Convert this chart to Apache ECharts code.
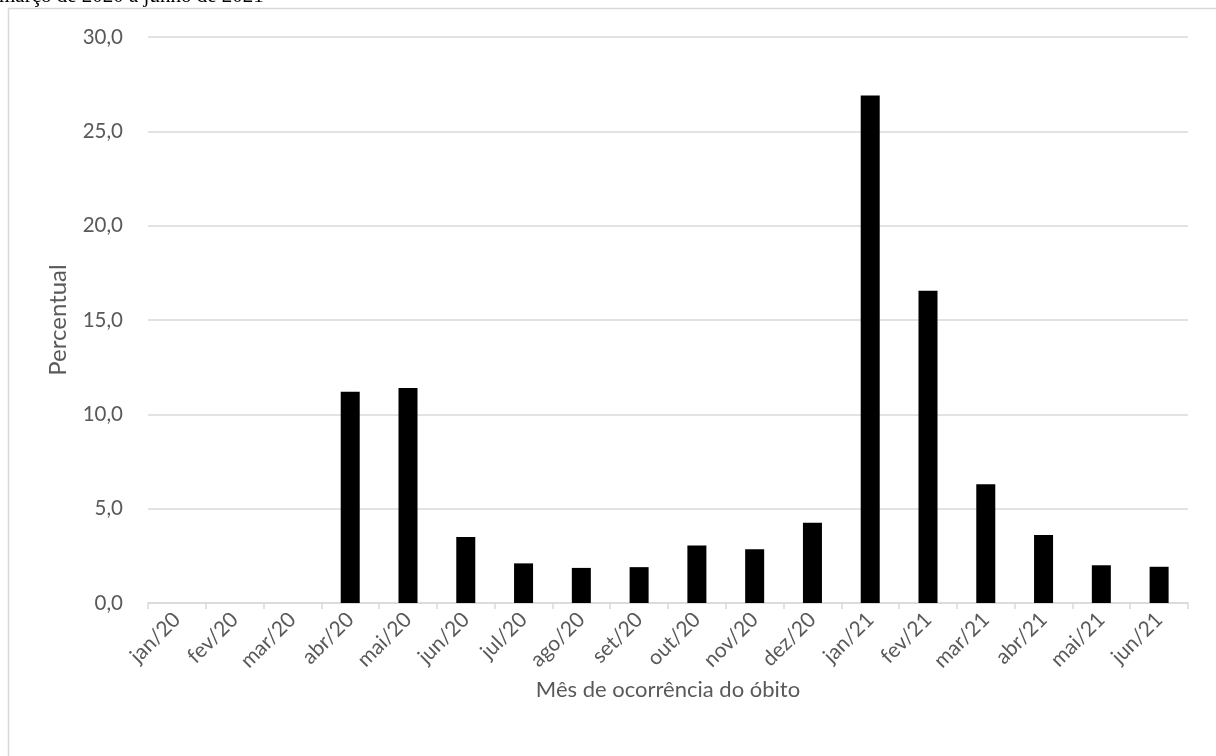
<!DOCTYPE html>
<html>
<head>
<meta charset="utf-8">
<script src="https://cdn.jsdelivr.net/npm/echarts@6/dist/echarts.min.js"></script>
<style>
html,body{margin:0;padding:0;background:#fff;}
#c{width:1216px;height:756px;}
</style>
</head>
<body>
<div id="c"></div>
<script>
const categories = ['jan/20','fev/20','mar/20','abr/20','mai/20','jun/20','jul/20','ago/20','set/20','out/20','nov/20','dez/20','jan/21','fev/21','mar/21','abr/21','mai/21','jun/21'];
const values = [0, 0, 0, 11.2, 11.4, 3.5, 2.1, 1.86, 1.9, 3.05, 2.85, 4.25, 26.9, 16.55, 6.3, 3.6, 2.0, 1.92];
const yTicks = { min: 0, max: 30, interval: 5 };
const titleText = 'março de 2020 a junho de 2021';
const xAxisTitle = 'Mês de ocorrência do óbito';
const yAxisTitle = 'Percentual';

const font = 'Lato';
const chart = echarts.init(document.getElementById('c'), null, {renderer: 'canvas'});
chart.setOption({
  backgroundColor: '#ffffff',
  animation: false,
  graphic: [
    { type: 'rect', shape: { x: 8.5, y: 8.5, width: 1400, height: 1000 },
      style: { fill: 'none', stroke: '#d9d9d9', lineWidth: 1.5 }, z: 0 },
    { type: 'text', x: -1, y: -4,
      style: { text: titleText, font: '21px "Liberation Serif"',
               fill: '#000', verticalAlign: 'middle', align: 'left' } }
  ],
  grid: { left: 148, right: 28, top: 37, bottom: 153, containLabel: false },
  xAxis: {
    type: 'category',
    data: categories,
    boundaryGap: true,
    name: xAxisTitle,
    nameLocation: 'middle',
    nameGap: 76,
    nameTextStyle: { color: '#595959', fontSize: 22, fontFamily: font },
    axisLine: { show: true, lineStyle: { color: '#d9d9d9', width: 1.5 } },
    axisTick: { show: true, length: 6, lineStyle: { color: '#d9d9d9', width: 1.5 } },
    axisLabel: { rotate: 45, color: '#595959', fontSize: 21, fontFamily: font, margin: 13, interval: 0 }
  },
  yAxis: {
    type: 'value',
    min: yTicks.min, max: yTicks.max, interval: yTicks.interval,
    name: yAxisTitle,
    nameLocation: 'middle',
    nameGap: 78,
    nameRotate: 90,
    nameTextStyle: { color: '#595959', fontSize: 24, fontFamily: font },
    axisLine: { show: false },
    axisTick: { show: false },
    splitLine: { show: true, lineStyle: { color: '#d9d9d9', width: 1.5 } },
    axisLabel: { color: '#595959', fontSize: 20.5, fontFamily: font, margin: 25,
                 formatter: v => v.toFixed(1).replace('.', ',') }
  },
  series: [{
    type: 'bar',
    data: values,
    barWidth: 19,
    itemStyle: { color: '#000000', borderWidth: 0 }
  }]
});
</script>
</body>
</html>
